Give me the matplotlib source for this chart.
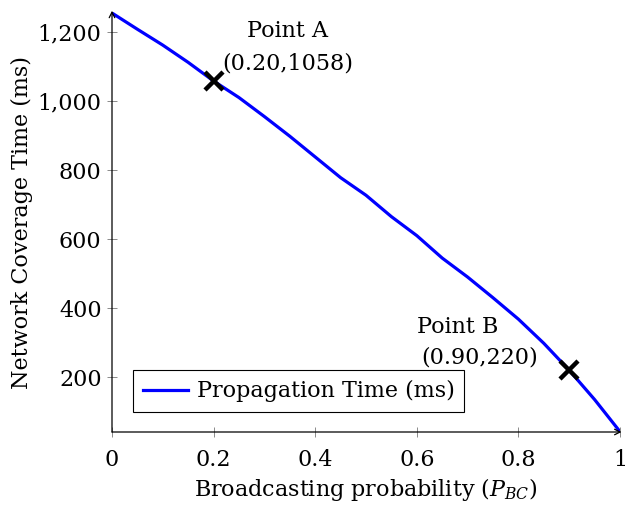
import matplotlib
matplotlib.use('Agg')
import matplotlib.pyplot as plt
from matplotlib.ticker import FuncFormatter

# Datos
prob = [0.0, 0.05, 0.10, 0.15, 0.20, 0.25, 0.30, 0.35, 0.40, 0.45, 0.50,
        0.55, 0.60, 0.65, 0.70, 0.75, 0.80, 0.85, 0.90, 0.95, 1.0]
tiempo = [1255, 1208, 1162, 1112, 1058, 1010, 955, 898, 838, 778, 727,
          665, 610, 545, 490, 430, 368, 298, 220, 135, 42]
puntos_x = [0.20, 0.90]
puntos_y = [1058, 220]
puntos_nombre = ['Point A', 'Point B']
xticks = [0, 0.2, 0.4, 0.6, 0.8, 1]
yticks = [200, 400, 600, 800, 1000, 1200]

plt.rcParams['font.family'] = ['DejaVu Serif']
plt.rcParams['mathtext.fontset'] = 'dejavuserif'
fs = 16

fig = plt.figure(figsize=(6.25, 5.11), dpi=100)
ax = fig.add_axes([112 / 625, 1 - 432 / 511, 508 / 625, 420 / 511])

ax.plot(prob, tiempo, color='#0000ff', lw=2.3, label='Propagation Time (ms)')
ax.plot(puntos_x, puntos_y, 'x', color='black', ms=13, mew=3.2, zorder=5)

# etiquetas de los puntos
ax.text(0.346, 1202, puntos_nombre[0], ha='center', va='center', fontsize=fs)
ax.text(0.345, 1110, '(%.2f,%d)' % (puntos_x[0], puntos_y[0]),
        ha='center', va='center', fontsize=fs)
ax.text(0.681, 345, puntos_nombre[1], ha='center', va='center', fontsize=fs)
ax.text(0.724, 258, '(%.2f,%d)' % (puntos_x[1], puntos_y[1]),
        ha='center', va='center', fontsize=fs)

ax.set_xlim(0, 1)
ax.set_ylim(41, 1258)
ax.set_xticks(xticks)
ax.set_yticks(yticks)
ax.xaxis.set_major_formatter(FuncFormatter(lambda v, p: '%g' % v))
ax.yaxis.set_major_formatter(FuncFormatter(lambda v, p: '{:,}'.format(int(v))))
ax.tick_params(direction='inout', length=7, width=0.6, color='#777777', labelsize=fs, pad=4)
ax.tick_params(axis='x', pad=9)

for s in ax.spines.values():
    s.set_visible(False)
ax.annotate('', xy=(1.003, 0), xytext=(0, 0), xycoords='axes fraction',
            arrowprops=dict(arrowstyle='->', lw=0.9, color='black', shrinkA=0, shrinkB=0))
ax.annotate('', xy=(0, 1.003), xytext=(0, 0), xycoords='axes fraction',
            arrowprops=dict(arrowstyle='->', lw=0.9, color='black', shrinkA=0, shrinkB=0))

ax.set_xlabel('Broadcasting probability ($P_{BC}$)', fontsize=fs, labelpad=3)
ax.set_ylabel('Network Coverage Time (ms)', fontsize=fs, labelpad=3)

leg = ax.legend(loc='lower left', fontsize=fs, fancybox=False, framealpha=1,
                edgecolor='black', handlelength=2.0, borderpad=0.45,
                handletextpad=0.4, bbox_to_anchor=(0.02, 0.02))
leg.get_frame().set_linewidth(0.8)

fig.savefig('out.png', dpi=100)
